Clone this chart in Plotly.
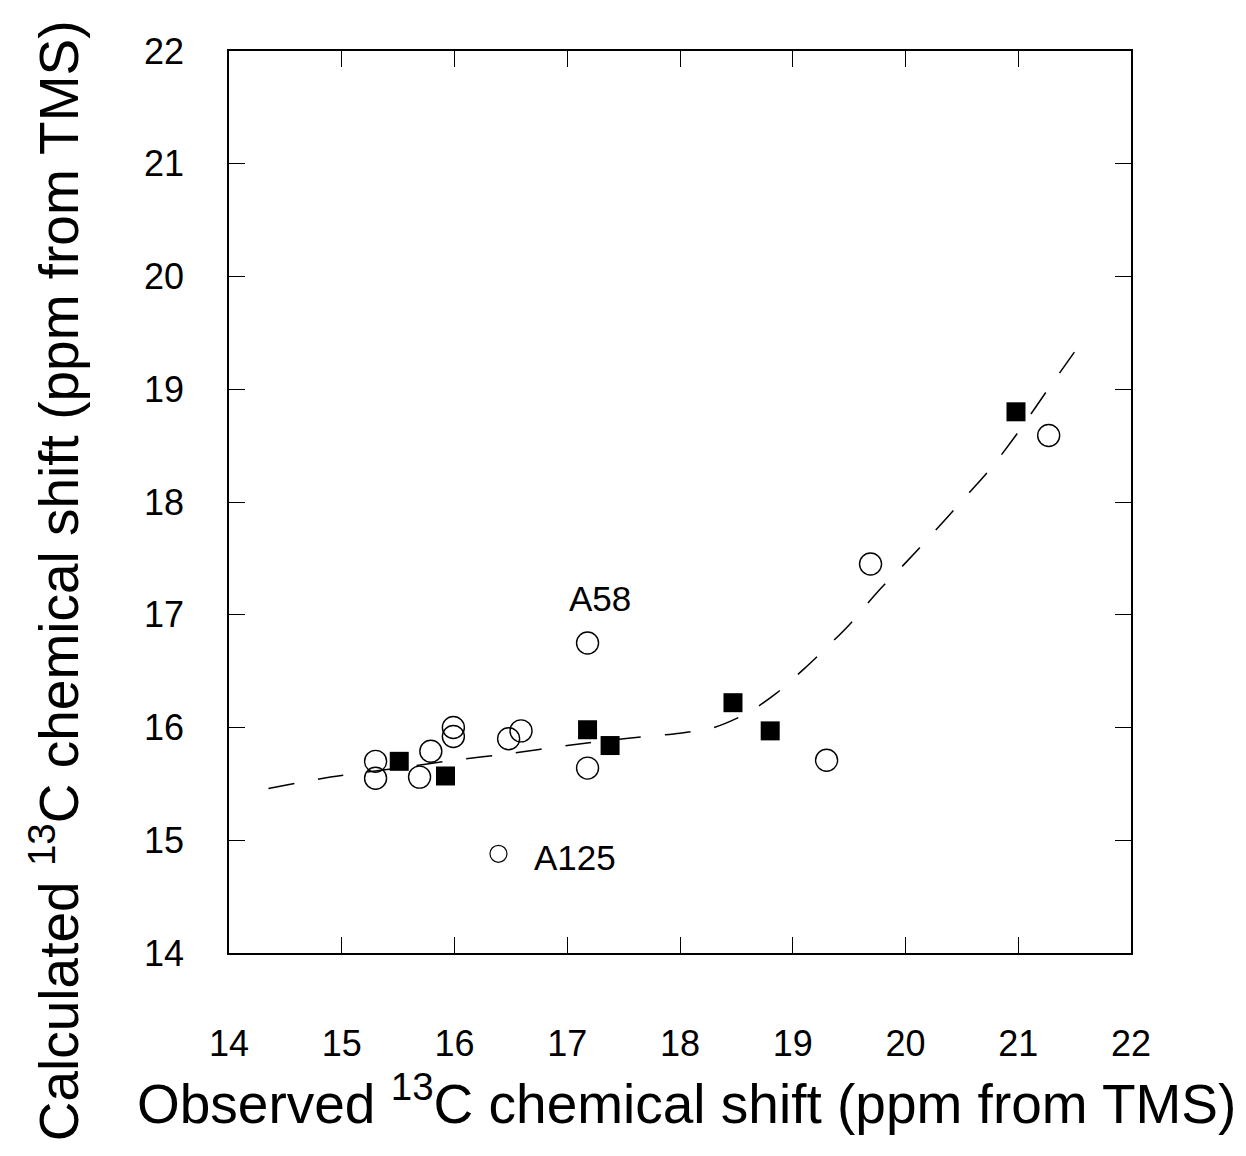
import plotly.graph_objects as go

# Open circles (observed, calculated)
circle_x = [15.30, 15.30, 15.69, 15.79, 15.99, 15.99, 16.48, 16.59, 17.18, 17.18, 19.30, 19.69, 21.27]
circle_y = [15.70, 15.55, 15.56, 15.79, 16.00, 15.92, 15.90, 15.97, 15.64, 16.75, 15.71, 17.45, 18.59]

# Small open circle (A125)
a125_x = [16.39]
a125_y = [14.88]

# Filled squares
square_x = [15.51, 15.92, 17.18, 17.38, 18.47, 18.80, 20.98]
square_y = [15.70, 15.57, 15.98, 15.84, 16.22, 15.97, 18.80]

# Dashed trend curve
curve_x = [14.35, 14.90, 15.50, 16.00, 16.50, 17.00, 17.50, 18.00, 18.30, 18.60, 18.85,
           19.10, 19.30, 19.50, 19.75, 20.00, 20.25, 20.50, 20.75, 21.00, 21.25, 21.57]
curve_y = [15.46, 15.56, 15.64, 15.71, 15.77, 15.84, 15.90, 15.95, 16.00, 16.13, 16.30,
           16.52, 16.71, 16.91, 17.20, 17.46, 17.73, 18.01, 18.29, 18.62, 18.98, 19.43]

tick_vals = [14, 15, 16, 17, 18, 19, 20, 21, 22]
tick_text = ["14", "15", "16", "17", "18", "19", "20", "21", "22"]

labels = ["A58", "A125"]
label_x = [17.29, 17.07]
label_y = [17.14, 14.85]

fig = go.Figure()
fig.add_trace(go.Scatter(x=curve_x, y=curve_y, mode="lines",
                         line=dict(color="black", width=1.5, dash="26px,24px",
                                   shape="spline", smoothing=0.8),
                         showlegend=False, hoverinfo="skip"))
fig.add_trace(go.Scatter(x=circle_x, y=circle_y, mode="markers",
                         marker=dict(symbol="circle-open", size=22, color="black",
                                     line=dict(width=1.4, color="black")),
                         showlegend=False))
fig.add_trace(go.Scatter(x=a125_x, y=a125_y, mode="markers",
                         marker=dict(symbol="circle-open", size=17, color="black",
                                     line=dict(width=1.2, color="black")),
                         showlegend=False))
fig.add_trace(go.Scatter(x=square_x, y=square_y, mode="markers",
                         marker=dict(symbol="square", size=19, color="black",
                                     line=dict(width=0)),
                         showlegend=False))

font_family = "Liberation Sans, Arial, Helvetica, sans-serif"

for t, lx, ly in zip(labels, label_x, label_y):
    fig.add_annotation(x=lx, y=ly, text=t, showarrow=False,
                       font=dict(size=35, color="black", family=font_family),
                       xanchor="center", yanchor="middle")

axis_common = dict(
    range=[14, 22], tickvals=tick_vals, ticktext=tick_text,
    showgrid=False, zeroline=False, showline=True, linecolor="black", linewidth=1.5,
    mirror="ticks", ticks="inside", ticklen=16, tickwidth=1.3, tickcolor="black",
    tickfont=dict(size=36, color="black", family=font_family),
)

fig.update_xaxes(**axis_common, ticklabelstandoff=58)
fig.update_yaxes(**axis_common, ticklabelstandoff=36)

fig.add_annotation(xref="paper", yref="paper", x=-0.192, y=0.413,
                   text="Calculated <sup>13</sup>C chemical shift (ppm from TMS)",
                   textangle=-90, showarrow=False, xanchor="center", yanchor="middle",
                   font=dict(size=55, color="black", family=font_family))
fig.add_annotation(xref="paper", yref="paper", x=0.507, y=-0.163,
                   text="Observed <sup>13</sup>C chemical shift (ppm from TMS)",
                   showarrow=False, xanchor="center", yanchor="middle",
                   font=dict(size=55, color="black", family=font_family))

fig.update_layout(
    width=1239, height=1149,
    margin=dict(l=221, r=116, t=43, b=204, autoexpand=False),
    plot_bgcolor="white", paper_bgcolor="white",
    showlegend=False,
)

fig.write_html("out.html")
